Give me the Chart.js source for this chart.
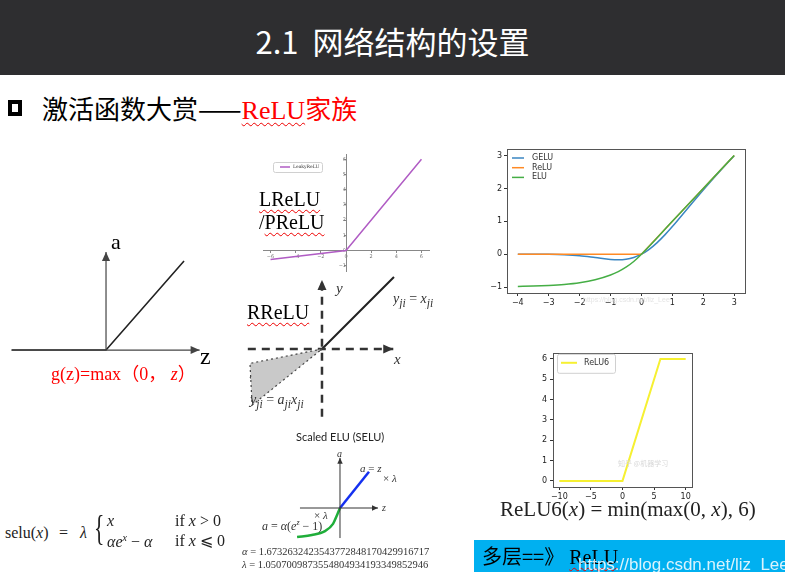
<!DOCTYPE html>
<html>
<head>
<meta charset="utf-8">
<script src="https://cdn.jsdelivr.net/npm/chart.js@4.4.0/dist/chart.umd.min.js"></script>
<style>
body { margin:0; width:785px; height:585px; background:#fff; position:relative; overflow:hidden; font-family:"Liberation Serif", serif; }
.abs { position:absolute; white-space:nowrap; line-height:1; }
canvas { position:absolute; }
.wavy { text-decoration:underline wavy #e00; text-decoration-thickness:1px; text-underline-offset:3px; text-decoration-skip-ink:none; }
.cjk { font-family:"Noto Sans CJK SC", sans-serif; }
i { font-style:italic; }
</style>
</head>
<body>
<div class="abs" style="left:0;top:0;width:785px;height:75px;background:#2e2e30;"></div>
<div class="abs cjk" style="left:0;top:25px;width:785px;text-align:center;font-size:31px;color:#fff;">2.1&nbsp; 网络结构的设置</div>

<div class="abs" style="left:8px;top:100px;width:6px;height:8px;border:4px solid #000;"></div>
<div class="abs cjk" style="left:42px;top:95px;font-size:26px;color:#000;">激活函数大赏——<span style="color:#f00;font-family:'Liberation Serif',serif;" class="wavy">ReLU</span><span style="color:#f00;">家族</span></div>

<canvas id="sketch" width="215" height="120" style="left:0;top:240px;"></canvas>
<canvas id="leaky" width="170" height="125" style="left:262px;top:150px;"></canvas>
<canvas id="gelu" width="265" height="172" style="left:489px;top:138px;"></canvas>
<canvas id="rrelu" width="160" height="146" style="left:244px;top:274px;"></canvas>
<canvas id="relu6" width="175" height="160" style="left:530px;top:345px;"></canvas>
<canvas id="selu" width="110" height="95" style="left:290px;top:450px;"></canvas>

<!-- relu sketch labels -->
<div class="abs" style="left:111px;top:231px;font-size:22px;">a</div>
<div class="abs" style="left:200px;top:344px;font-size:24px;">z</div>
<div class="abs" style="left:51px;top:363px;font-size:18px;color:#f00;">g(z)=max<span class="cjk">（</span>0<span class="cjk">，</span> <i>z</i><span class="cjk">）</span></div>

<!-- leaky labels -->
<div class="abs wavy" style="left:259px;top:189px;font-size:20px;">LReLU</div>
<div class="abs" style="left:259px;top:212px;font-size:20px;">/<span class="wavy">PReLU</span></div>

<!-- rrelu labels -->
<div class="abs wavy" style="left:247px;top:302px;font-size:20px;">RReLU</div>
<div class="abs" style="left:336px;top:281px;font-size:15px;color:#333;"><i>y</i></div>
<div class="abs" style="left:393px;top:292px;width:47px;overflow:hidden;font-size:14px;color:#333;"><i>y<sub>ji</sub></i> = <i>x<sub>ji</sub></i></div>
<div class="abs" style="left:394px;top:352px;font-size:15px;color:#333;"><i>x</i></div>
<div class="abs" style="left:250px;top:393px;font-size:14px;color:#333;"><i>y<sub>ji</sub></i> = <i>a<sub>ji</sub>x<sub>ji</sub></i></div>

<!-- gelu watermark -->
<div class="abs" style="left:583px;top:296px;font-size:7px;color:#e4e4e4;font-family:'Liberation Sans',sans-serif;">https://blog.csdn.net/liz_Lee</div>

<!-- relu6 formula -->
<div class="abs cjk" style="left:618px;top:460px;font-size:7px;color:#d8d8d8;">知乎 @机器学习</div>
<div class="abs" style="left:500px;top:499px;font-size:21px;color:#222;">ReLU6(<i>x</i>) = min(max(0, <i>x</i>), 6)</div>

<!-- selu diagram labels -->
<div class="abs" style="left:296px;top:431px;font-size:11px;font-family:Lato,sans-serif;color:#222;">Scaled ELU (SELU)</div>
<div class="abs" style="left:337px;top:449px;font-size:10px;color:#333;"><i>a</i></div>
<div class="abs" style="left:382px;top:503px;font-size:10px;color:#333;"><i>z</i></div>
<div class="abs" style="left:360px;top:463px;font-size:11px;color:#333;"><i>a</i> = <i>z</i></div>
<div class="abs" style="left:383px;top:473px;font-size:11px;color:#333;">× <i>λ</i></div>
<div class="abs" style="left:314px;top:510px;font-size:11px;color:#333;">× <i>λ</i></div>
<div class="abs" style="left:262px;top:519px;font-size:12px;color:#333;"><i>a</i> = <i>α</i>(<i>e<sup style="font-size:8px">z</sup></i> − 1)</div>
<div class="abs" style="left:242px;top:547px;font-size:10.5px;color:#333;"><i>α</i> = 1.6732632423543772848170429916717</div>
<div class="abs" style="left:242px;top:560px;font-size:10.5px;color:#333;"><i>λ</i> = 1.0507009873554804934193349852946</div>

<!-- selu formula -->
<div class="abs" style="left:5px;top:525px;font-size:16px;color:#222;">selu(<i>x</i>)</div>
<div class="abs" style="left:59px;top:525px;font-size:16px;color:#222;">=</div>
<div class="abs" style="left:80px;top:525px;font-size:16px;color:#222;"><i>λ</i></div>
<div class="abs" style="left:94px;top:510px;font-size:36px;color:#222;transform:scaleX(0.6);transform-origin:left top;">{</div>
<div class="abs" style="left:107px;top:513px;font-size:16px;color:#222;"><i>x</i></div>
<div class="abs" style="left:175px;top:513px;font-size:16px;color:#222;">if <i>x</i> &gt; 0</div>
<div class="abs" style="left:107px;top:533px;font-size:16px;color:#222;"><i>αe<sup style="font-size:10px">x</sup></i> − <i>α</i></div>
<div class="abs" style="left:175px;top:533px;font-size:16px;color:#222;">if <i>x</i> ⩽ 0</div>

<!-- blue box -->
<div class="abs" style="left:474px;top:540px;width:311px;height:32px;background:#00b0f0;"></div>
<div class="abs" style="left:482px;top:546px;font-size:20px;color:#000;"><span class="cjk">多层==》</span> <span class="wavy">ReLU</span></div>
<div class="abs" style="left:578px;top:556px;font-size:17px;color:rgba(255,255,255,0.85);font-family:'Liberation Sans',sans-serif;">https://blog.csdn.net/liz_Lee</div>

<script>
// ReLU sketch (left)
var reluZ = [-1.21, 0, 1];
var reluA = [0, 0, 1];
var sketchAxisZ = [-1.21, 1.2];
var sketchAxisA = [0, 1.1];

// LeakyReLU
var leakyX = [-6, 0, 6];
var leakyY = [-0.6, 0, 6];
var leakyXTicks = [-6, -4, -2, 0, 2, 4, 6];
var leakyYTicks = [-1, 0, 1, 2, 3, 4, 5, 6];

// GELU / ReLU / ELU
var geluX = [-4, -3.5, -3, -2.5, -2, -1.5, -1, -0.75, -0.5, -0.25, 0, 0.25, 0.5, 0.75, 1, 1.5, 2, 2.5, 3];
var geluY = [0, -0.001, -0.004, -0.016, -0.045, -0.1, -0.159, -0.17, -0.154, -0.1, 0, 0.15, 0.346, 0.58, 0.841, 1.4, 1.955, 2.485, 2.996];
var reluX = [-4, 0, 3];
var reluY = [0, 0, 3];
var eluX = [-4, -3.5, -3, -2.5, -2, -1.5, -1, -0.75, -0.5, -0.25, 0, 1, 2, 3];
var eluY = [-0.98, -0.97, -0.95, -0.918, -0.865, -0.777, -0.632, -0.528, -0.393, -0.221, 0, 1, 2, 3];
var geluXTicks = [-4, -3, -2, -1, 0, 1, 2, 3];
var geluYTicks = [-1, 0, 1, 2, 3];

// RReLU
var rreluPosX = [0, 1];
var rreluPosY = [0, 1];
var rreluNegX = [-1, 0];
var rreluNegY = [-0.4, 0];
var rreluBandX = [0, -1, -0.97, 0];
var rreluBandY = [0, -0.2, -0.78, 0];
var rreluAxisX = [-1.03, 0.99];
var rreluAxisY = [-0.94, 0.96];

// ReLU6
var relu6X = [-10, 0, 6, 10];
var relu6Y = [0, 0, 6, 6];
var relu6XTicks = [-10, -5, 0, 5, 10];
var relu6YTicks = [0, 1, 2, 3, 4, 5, 6];

// SELU
var seluPosZ = [0, 1];
var seluPosA = [0, 1.1];
var seluNegZ = [-1.48, -0.97, -0.52, -0.24, -0.1, 0];
var seluNegA = [-0.88, -0.82, -0.7, -0.48, -0.21, 0];
var seluAxisZ = [-1.38, 1.31];
var seluAxisA = [-0.91, 1.52];

function pts(xs, ys) {
  return xs.map(function(x, i) { return {x: x, y: ys[i]}; });
}
function minus(v) { return v < 0 ? '\u2212' + Math.abs(v) : '' + v; }
function fixTicks(list) {
  return function(axis) { axis.ticks = list.map(function(v) { return {value: v}; }); };
}

var arrowPlugin = {
  id: 'arrows',
  afterDatasetsDraw: function(chart) {
    var ctx = chart.ctx;
    chart.data.datasets.forEach(function(ds, i) {
      if (!ds.arrow) return;
      var p = chart.getDatasetMeta(i).data;
      var a = p[p.length - 2], b = p[p.length - 1];
      var ang = Math.atan2(b.y - a.y, b.x - a.x);
      var s = ds.arrow, w = s * 0.45;
      ctx.save();
      ctx.fillStyle = ds.arrowColor || ds.borderColor;
      ctx.beginPath();
      ctx.moveTo(b.x, b.y);
      ctx.lineTo(b.x - s * Math.cos(ang) + w * Math.sin(ang), b.y - s * Math.sin(ang) - w * Math.cos(ang));
      ctx.lineTo(b.x - s * Math.cos(ang) - w * Math.sin(ang), b.y - s * Math.sin(ang) + w * Math.cos(ang));
      ctx.closePath();
      ctx.fill();
      ctx.restore();
    });
  }
};

var framePlugin = {
  id: 'frame',
  afterDatasetsDraw: function(chart, args, opts) {
    if (!opts.show) return;
    var c = chart.chartArea, ctx = chart.ctx;
    ctx.save();
    ctx.strokeStyle = opts.color;
    ctx.lineWidth = 1;
    ctx.strokeRect(Math.round(c.left) + 0.5, Math.round(c.top) + 0.5, Math.round(c.right - c.left), Math.round(c.bottom - c.top));
    ctx.restore();
  }
};

var legendPlugin = {
  id: 'boxLegend',
  afterDraw: function(chart, args, opts) {
    if (!opts.show) return;
    var c = chart.chartArea, ctx = chart.ctx;
    ctx.save();
    if (opts.box) {
      ctx.fillStyle = 'rgba(255,255,255,0.9)';
      ctx.strokeStyle = '#d0d0d0';
      ctx.lineWidth = 1;
      ctx.beginPath();
      ctx.roundRect(c.left + opts.box[0] + 0.5, c.top + opts.box[1] + 0.5, opts.box[2], opts.box[3], 2);
      ctx.fill();
      ctx.stroke();
    }
    ctx.font = opts.font;
    ctx.textBaseline = 'middle';
    var row = 0;
    chart.data.datasets.forEach(function(ds) {
      if (!ds.label) return;
      var y = c.top + opts.y + row * opts.row;
      ctx.strokeStyle = ds.borderColor;
      ctx.lineWidth = ds.borderWidth;
      ctx.beginPath();
      ctx.moveTo(c.left + opts.x, y);
      ctx.lineTo(c.left + opts.x + opts.line, y);
      ctx.stroke();
      ctx.fillStyle = '#333';
      ctx.fillText(ds.label, c.left + opts.x + opts.line + opts.gap, y);
      row++;
    });
    ctx.restore();
  }
};

Chart.register(arrowPlugin, framePlugin, legendPlugin);
Chart.defaults.animation = false;
Chart.defaults.plugins.legend.display = false;
Chart.defaults.plugins.tooltip.enabled = false;
Chart.defaults.elements.point.radius = 0;
Chart.defaults.font.family = 'DejaVu Sans';

function hidden(xmin, xmax, ymin, ymax) {
  return {
    x: {type: 'linear', display: false, min: xmin, max: xmax},
    y: {type: 'linear', display: false, min: ymin, max: ymax}
  };
}
function line(data, color, width, extra) {
  var ds = {data: data, borderColor: color, borderWidth: width, showLine: true, fill: false, pointRadius: 0};
  for (var k in extra) ds[k] = extra[k];
  return ds;
}

// ReLU sketch
new Chart(document.getElementById('sketch'), {
  type: 'scatter',
  data: {datasets: [
    line(pts(sketchAxisZ, [0, 0]), '#444', 1.2, {arrow: 9}),
    line(pts([0, 0], sketchAxisA), '#444', 1.2, {arrow: 9}),
    line(pts(reluZ, reluA), '#222', 1.6)
  ]},
  options: {responsive: false, layout: {padding: 0}, scales: hidden(-1.359, 1.397, -0.112, 1.236)}
});

// LeakyReLU
new Chart(document.getElementById('leaky'), {
  type: 'scatter',
  data: {datasets: [line(pts(leakyX, leakyY), '#b05cc4', 1.5, {label: 'LeakyReLU'})]},
  options: {
    responsive: false,
    layout: {padding: {left: 1, right: 3, top: 2, bottom: 0}},
    scales: {
      x: {type: 'linear', min: -6.6, max: 6.6, position: {y: 0}, afterBuildTicks: fixTicks(leakyXTicks),
          grid: {drawOnChartArea: false, tickLength: 2, color: '#888'}, border: {color: '#888'},
          ticks: {font: {size: 5}, color: '#777', padding: 1, callback: minus}},
      y: {type: 'linear', min: -1.35, max: 6.35, position: {x: 0}, afterBuildTicks: fixTicks(leakyYTicks),
          grid: {drawOnChartArea: false, tickLength: 2, color: '#888'}, border: {color: '#888'},
          ticks: {font: {size: 5}, color: '#777', padding: 1, callback: minus}}
    },
    plugins: {boxLegend: {show: true, x: 17, y: 13, row: 8, line: 10, gap: 3, font: '4.5px "DejaVu Serif"', box: [10, 8, 49, 10]}}
  }
});

// GELU / ReLU / ELU
new Chart(document.getElementById('gelu'), {
  type: 'scatter',
  data: {datasets: [
    line(pts(geluX, geluY), '#3a86c2', 1.5, {label: 'GELU', order: 2, cubicInterpolationMode: 'monotone'}),
    line(pts(reluX, reluY), '#ff8a24', 1.5, {label: 'ReLU', order: 1}),
    line(pts(eluX, eluY), '#45ae45', 1.5, {label: 'ELU', order: 0, cubicInterpolationMode: 'monotone'})
  ]},
  options: {
    responsive: false,
    layout: {padding: {left: 0, right: 9, top: 11, bottom: 0}},
    scales: {
      x: {type: 'linear', min: -4.35, max: 3.35, afterBuildTicks: fixTicks(geluXTicks), afterFit: function(s) { s.height = 17; },
          grid: {drawOnChartArea: false, tickLength: 3, color: '#333'}, border: {display: false},
          ticks: {font: {size: 8}, color: '#222', padding: 2, callback: minus, maxRotation: 0}},
      y: {type: 'linear', min: -1.18, max: 3.2, afterBuildTicks: fixTicks(geluYTicks), afterFit: function(s) { s.width = 18; },
          grid: {drawOnChartArea: false, tickLength: 3, color: '#333'}, border: {display: false},
          ticks: {font: {size: 8}, color: '#222', padding: 2, callback: minus}}
    },
    plugins: {
      frame: {show: true, color: '#555'},
      boxLegend: {show: true, x: 5, y: 9, row: 9.7, line: 12, gap: 8, font: '8px "DejaVu Sans"'}
    }
  }
});

// RReLU
new Chart(document.getElementById('rrelu'), {
  type: 'scatter',
  data: {datasets: [
    line(pts(rreluBandX, rreluBandY), '#444', 1.2, {fill: 'shape', backgroundColor: '#c9c9c9', borderDash: [2, 3]}),
    line(pts(rreluAxisX, [0, 0]), '#333', 2.5, {borderDash: [8, 6], arrow: 10}),
    line(pts([0, 0], rreluAxisY), '#333', 2.5, {borderDash: [8, 6], arrow: 10}),
    line(pts(rreluNegX, rreluNegY), '#222', 2),
    line(pts(rreluPosX, rreluPosY), '#222', 2)
  ]},
  options: {responsive: false, layout: {padding: 0}, scales: hidden(-1.083, 1.139, -0.986, 1.042)}
});

// ReLU6
new Chart(document.getElementById('relu6'), {
  type: 'scatter',
  data: {datasets: [line(pts(relu6X, relu6Y), '#f6f032', 2, {label: 'ReLU6'})]},
  options: {
    responsive: false,
    layout: {padding: {left: 0, right: 13, top: 7, bottom: 0}},
    scales: {
      x: {type: 'linear', min: -11, max: 11, afterBuildTicks: fixTicks(relu6XTicks), afterFit: function(s) { s.height = 18; },
          grid: {drawOnChartArea: false, tickLength: 3, color: '#333'}, border: {display: false},
          ticks: {font: {size: 8}, color: '#222', padding: 2, callback: minus, maxRotation: 0}},
      y: {type: 'linear', min: -0.3, max: 6.3, afterBuildTicks: fixTicks(relu6YTicks), afterFit: function(s) { s.width = 23; },
          grid: {drawOnChartArea: false, tickLength: 3, color: '#333'}, border: {display: false},
          ticks: {font: {size: 8}, color: '#222', padding: 3, callback: minus}}
    },
    plugins: {
      frame: {show: true, color: '#555'},
      boxLegend: {show: true, x: 8, y: 10, row: 10, line: 16, gap: 7, font: '8px "DejaVu Sans"', box: [4, 1, 58, 19]}
    }
  }
});

// SELU
new Chart(document.getElementById('selu'), {
  type: 'scatter',
  data: {datasets: [
    line(pts(seluAxisZ, [0, 0]), '#333', 1, {arrow: 6}),
    line(pts([0, 0], seluAxisA), '#333', 1, {arrow: 6}),
    line(pts(seluNegZ, seluNegA), '#1fae3a', 2.5, {cubicInterpolationMode: 'monotone'}),
    line(pts(seluPosZ, seluPosA), '#1430f0', 2.5)
  ]},
  options: {responsive: false, layout: {padding: 0}, scales: hidden(-1.724, 2.069, -1.121, 1.758)}
});
</script>
</body>
</html>
